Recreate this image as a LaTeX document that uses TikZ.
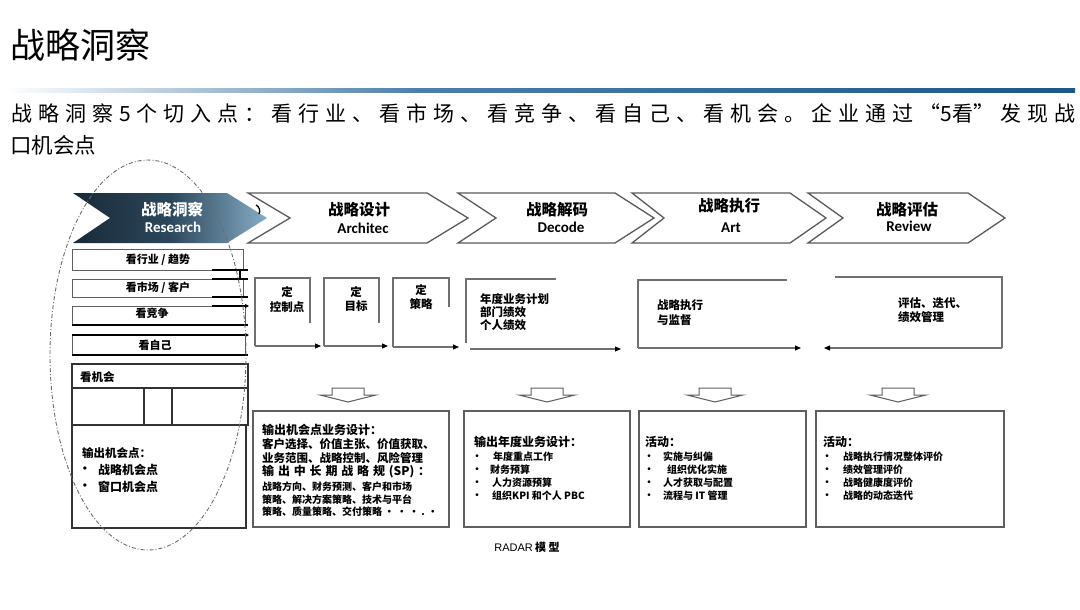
\documentclass[tikz,border=0pt]{standalone}
\usepackage{fontspec}
\setmainfont{Noto Sans CJK SC}
\newfontfamily\enfont{Carlito}
\newfontfamily\arialfont{Liberation Sans}
\usetikzlibrary{arrows.meta}
\definecolor{ruleA}{HTML}{4A7FAB}
\definecolor{ruleB}{HTML}{1B578A}
\definecolor{resL}{HTML}{192A38}
\definecolor{resM}{HTML}{2C475B}
\definecolor{resR}{HTML}{86ADC6}
\definecolor{chevline}{HTML}{5A5A5A}
\definecolor{frameline}{HTML}{707070}
\definecolor{boxline}{HTML}{5F5F5F}
\definecolor{ovalline}{HTML}{6A6A6A}
\tikzset{
  chev/.style={draw=chevline, line width=1.3pt, fill=white, line join=miter},
  cn/.style={inner sep=0pt, font=\fontsize{15.5}{17}\selectfont\bfseries},
  en/.style={inner sep=0pt, font=\enfont\fontsize{15}{17}\selectfont\bfseries},
  pframe/.style={draw=frameline, line width=1.1pt},
  farrow/.style={draw=frameline, line width=1.1pt, -{Triangle[length=6pt,width=5pt,color=black]}},
  ptxt/.style={inner sep=0pt, font=\fontsize{11.5}{13}\selectfont\bfseries},
  lbox/.style={draw=boxline, line width=1pt},
  heavy/.style={draw=black, line width=2.4pt},
  obox/.style={draw=boxline, line width=1.4pt},
  dnarrow/.style={draw=boxline, line width=1pt, fill=white, line join=miter},
  ltxt/.style={inner sep=0pt, anchor=west, font=\fontsize{11.5}{13}\selectfont\bfseries},
  htxt/.style={inner sep=0pt, anchor=west, font=\fontsize{12}{14}\selectfont\bfseries},
  stxt/.style={inner sep=0pt, anchor=west, font=\fontsize{10}{12}\selectfont\bfseries},
  bul/.style={inner sep=0pt, font=\arialfont\fontsize{10}{12}\selectfont},
}
\begin{document}
\begin{tikzpicture}[x=1pt,y=-1pt]
\useasboundingbox[fill=white] (0,0) rectangle (1080,610);

% ---------- title ----------
\node[anchor=west, inner sep=0pt, font=\fontsize{35}{40}\selectfont] (title) at (10,45) {战略洞察};
\shade[left color=white, right color=ruleA] (5,89) rectangle (420,93);
\shade[left color=ruleA, right color=ruleB] (420,89) rectangle (1075,93);
\node[anchor=west, inner sep=0pt, font=\fontsize{21}{24}\selectfont] (sub1) at (11,113)
  {\makebox[1064pt][s]{战 略 洞 察 5 个 切 入 点 ： 看 行 业 、 看 市 场 、 看 竞 争 、 看 自 己 、 看 机 会 。 企 业 通 过 “5看” 发 现 战}};
\node[anchor=west, inner sep=0pt, font=\fontsize{21.5}{24}\selectfont] (sub2) at (10,145) {口机会点};

% ---------- chevrons ----------
\shade[left color=resL, right color=resR, middle color=resM]
  (73,193) -- (227,193) -- (267,218) -- (227,243) -- (73,243) -- (110,218) -- cycle;
\draw[line width=1.3pt] (256,205) to[bend left=45] (259,214);
\foreach \L/\N/\S/\T in {248/290/427/468, 458/496/615/654, 632/664/790/826, 808/843/968/1005}
  \draw[chev] (\L,193) -- (\S,193) -- (\T,218) -- (\S,243) -- (\L,243) -- (\N,218) -- cycle;

\node[cn, text=white] (resCN) at (172,210) {战略洞察};
\node[en, text=white] (resEN) at (173,227) {Research};
\node[cn] (archCN) at (359,210) {战略设计};
\node[en] (archEN) at (363,228) {Architec};
\node[cn] (decCN) at (557,210) {战略解码};
\node[en] (decEN) at (561,227) {Decode};
\node[cn] (artCN) at (729,206) {战略执行};
\node[en] (artEN) at (731,228) {Art};
\node[cn] (revCN) at (907,210) {战略评估};
\node[en] (revEN) at (909,226) {Review};

% ---------- left column ----------
\draw[lbox] (72,249) rectangle (243,270);
\draw[lbox] (72,279) rectangle (243,297);
\draw[lbox] (72,306) rectangle (245,325);
\draw[lbox] (72,335) rectangle (245,355);
\node[ltxt, anchor=center, font=\fontsize{11}{13}\selectfont\bfseries] (see1) at (158,260) {看行业 / 趋势};
\node[ltxt, anchor=center, font=\fontsize{11}{13}\selectfont\bfseries] (see2) at (158,288) {看市场 / 客户};
\node[ltxt, anchor=center, font=\fontsize{11}{13}\selectfont\bfseries] (see3) at (152,313) {看竞争};
\node[ltxt, anchor=center, font=\fontsize{11}{13}\selectfont\bfseries] (see4) at (155,345) {看自己};
\draw[heavy] (212,270) -- (248,270);
\draw[heavy] (212,279) -- (248,279);
\draw[heavy] (240,270) -- (240,279);
\draw[heavy] (212,297) -- (248,297);
\draw[heavy, -{Triangle[length=4pt,width=4pt]}] (212,306) -- (249,306);
\draw[heavy] (72,325) -- (248,325);
\draw[heavy, -{Triangle[length=4pt,width=4pt]}] (72,335) -- (249,335);
\draw[heavy] (72,355) -- (248,355);

\draw[obox, draw=black!80] (72,364) rectangle (248,388);
\draw[obox, draw=black!80] (72,388) rectangle (248,425);
\draw[obox, draw=black!80] (144,388) -- (144,425);
\draw[obox, draw=black!80] (172,388) -- (172,425);
\draw[obox, draw=black!80] (72,425) rectangle (246,528);
\node[ltxt] (seeOpp) at (80,377) {看机会};
\node[htxt, font=\fontsize{11.5}{13}\selectfont\bfseries] (oppH) at (82,453) {输出机会点：};
\node[bul, font=\arialfont\fontsize{12}{14}\selectfont] (oppB1) at (85,470) {•};
\node[bul, font=\arialfont\fontsize{12}{14}\selectfont] (oppB2) at (85,487) {•};
\node[htxt] (opp1) at (98,470) {战略机会点};
\node[htxt] (opp2) at (98,487) {窗口机会点};

% ---------- row 2 panels ----------
\draw[pframe] (310,323) -- (310,278) -- (255,278) -- (255,346);
\draw[farrow] (255,346) -- (321,346);
\draw[pframe] (379,323) -- (379,278) -- (324,278) -- (324,346);
\draw[farrow] (324,346) -- (388,346);
\draw[pframe] (449,307) -- (449,278) -- (393,278) -- (393,347);
\draw[farrow] (393,347) -- (459,347);
\node[ptxt] (p1a) at (287,292) {定};
\node[ptxt] (p1b) at (287,307) {控制点};
\node[ptxt] (p2a) at (356,292) {定};
\node[ptxt] (p2b) at (356,306) {目标};
\node[ptxt] (p3a) at (421,290) {定};
\node[ptxt] (p3b) at (421,304) {策略};

\draw[pframe] (556,279) -- (466,279) -- (466,343);
\draw[farrow] (470,349) -- (621,349);
\node[ptxt, anchor=west, align=left] (p4) at (480,312) {年度业务计划\\部门绩效\\个人绩效};

\draw[pframe] (787,280) -- (638,280) -- (638,348);
\draw[farrow] (638,348) -- (801,348);
\node[ptxt, anchor=west, align=left, font=\fontsize{11.5}{15}\selectfont\bfseries] (p5) at (657,312.5) {战略执行\\与监督};

\draw[pframe] (835,277) -- (1002,277) -- (1002,348);
\draw[farrow] (1002,348) -- (824,348);
\node[ptxt, anchor=west, align=left, font=\fontsize{11.5}{14}\selectfont\bfseries] (p6) at (898,310) {评估、迭代、\\绩效管理};

% ---------- hollow down arrows ----------
\foreach \c in {348,547,715,898}
  \draw[dnarrow] (\c-16,388) -- (\c+16,388) -- (\c+16,395) -- (\c+28,395) -- (\c,402)
     -- (\c-28,395) -- (\c-16,395) -- cycle;

% ---------- row 3 boxes ----------
\draw[obox] (253,411) rectangle (449,527);
\draw[obox] (464,411) rectangle (630,527);
\draw[obox] (639,411) rectangle (806,527);
\draw[obox] (816,411) rectangle (1004,527);

\node[htxt] (b1h) at (262,430) {输出机会点业务设计：};
\node[ltxt] (b1l1) at (262,444) {客户选择、价值主张、价值获取、};
\node[ltxt] (b1l2) at (262,458) {业务范围、战略控制、风险管理};
\node[htxt] (b1l3) at (262,472) {\makebox[168pt][s]{输 出 中 长 期 战 略 规 (SP) ：}};
\node[stxt] (b1l4) at (262,487) {战略方向、财务预测、客户和市场};
\node[stxt] (b1l5) at (262,500) {策略、解决方案策略、技术与平台};
\node[stxt] (b1l6) at (262,512) {策略、质量策略、交付策略 · · · . ·};

\node[htxt] (b2h) at (474,442) {输出年度业务设计：};
\node[bul] (b2u1) at (477,457) {•};
\node[bul] (b2u2) at (477,470) {•};
\node[bul] (b2u3) at (477,483) {•};
\node[bul] (b2u4) at (477,496) {•};
\node[stxt] (b2t1) at (493,457) {年度重点工作};
\node[stxt] (b2t2) at (490,470) {财务预算};
\node[stxt] (b2t3) at (492,483) {人力资源预算};
\node[stxt] (b2t4) at (492,496) {组织KPI 和个人 PBC};

\node[htxt] (b3h) at (645,442) {活动：};
\node[bul] (b3u1) at (649,457) {•};
\node[bul] (b3u2) at (649,470) {•};
\node[bul] (b3u3) at (649,483) {•};
\node[bul] (b3u4) at (649,496) {•};
\node[stxt] (b3t1) at (663,457) {实施与纠偏};
\node[stxt] (b3t2) at (667,470) {组织优化实施};
\node[stxt] (b3t3) at (663,483) {人才获取与配置};
\node[stxt] (b3t4) at (663,496) {流程与 IT 管理};

\node[htxt] (b4h) at (823,442) {活动：};
\node[bul] (b4u1) at (827,457) {•};
\node[bul] (b4u2) at (827,470) {•};
\node[bul] (b4u3) at (827,483) {•};
\node[bul] (b4u4) at (827,496) {•};
\node[stxt] (b4t1) at (843,457) {战略执行情况整体评价};
\node[stxt] (b4t2) at (843,470) {绩效管理评价};
\node[stxt] (b4t3) at (843,483) {战略健康度评价};
\node[stxt] (b4t4) at (843,496) {战略的动态迭代};

\node[inner sep=0pt] (radar) at (527,547)
  {{\arialfont\fontsize{11}{13}\selectfont RADAR} {\fontsize{11}{13}\selectfont\bfseries 模 型}};

% ---------- dashed oval ----------
\draw[draw=ovalline, line width=0.9pt, dash pattern=on 4pt off 2pt on 1pt off 2pt]
  (148,355) ellipse [x radius=98pt, y radius=195pt];
\end{tikzpicture}
\end{document}
